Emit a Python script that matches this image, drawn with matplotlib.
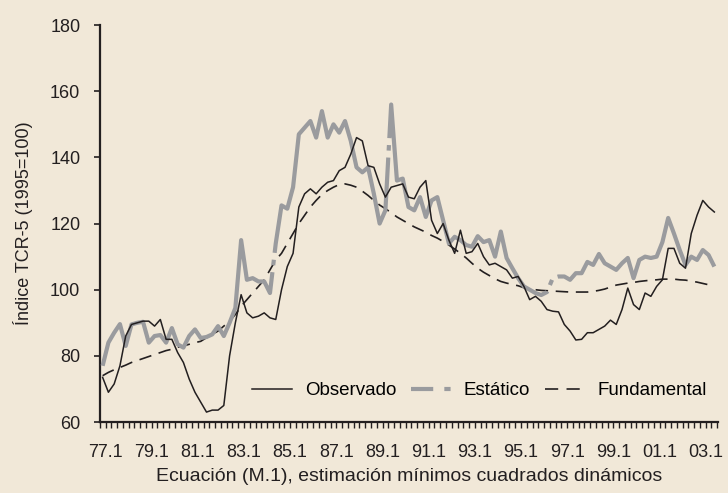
import numpy as np
import matplotlib
matplotlib.use("Agg")
from matplotlib import pyplot as plt
from matplotlib.lines import Line2D

plt.rcParams['font.family'] = ['Liberation Sans', 'DejaVu Sans']
plt.rcParams['lines.scale_dashes'] = False

# quarterly data 1977.1 - 2003.3
observado = [73.5, 69, 71.5, 77, 86, 89.5, 90, 90.5, 90.5, 89, 91, 85, 85, 81, 78, 73,
             69, 66, 63, 63.6, 63.6, 65, 80, 90, 98.5, 93, 91.5, 92, 93, 91.5, 91, 100,
             107, 111, 125, 129, 130.5, 129, 131, 132.5, 133, 136, 137, 141, 146, 145, 137.5, 137,
             132, 128, 131, 131.5, 132, 128, 127.5, 131, 133, 121, 117, 120, 115, 111, 118, 111,
             111.5, 114, 110, 107.5, 108, 107, 106, 103.5, 104, 101, 97, 98, 96.5, 94, 93.5, 93.3,
             89.5, 87.5, 84.8, 85, 87, 87, 88, 89, 90.8, 89.5, 94, 100.5, 95.5, 94, 99, 98,
             101, 103, 112.5, 112.5, 108, 106.5, 117, 122.5, 127, 125, 123.5]
estatico = [77, 84, 87, 89.6, 83, 89.5, 90, 90.3, 84, 86, 86.3, 84, 88.4, 83.5, 82.5, 86,
            88, 85.4, 85.7, 86.5, 89, 86, 90, 94.5, 115, 103, 103.5, 102.5, 102.5, 99, 114, 125.5,
            124.5, 131, 147, 149, 151, 146, 154, 146, 150, 147.5, 151, 145, 137, 135.5, 137, 129,
            120, 124, 156, 133, 133.6, 125, 124, 128, 122, 127, 128, 121, 114, 116, 115, 113.5,
            113, 116.2, 114.4, 115, 110, 117.6, 109.6, 106.5, 103.5, 101, 100, 99, 98.4, 99.3, 103.5, 104,
            104, 103, 105, 105, 108.4, 107.5, 110.8, 108, 107, 106, 108, 109.6, 103.5, 109, 110, 109.6,
            110, 114.4, 121.7, 117, 112, 107.5, 110, 109, 112, 110.5, 107]
fundamental = [74, 75, 75.8, 76.5, 77.2, 78, 78.6, 79.2, 79.8, 80.4, 81, 81.6, 82, 82.6, 83, 83.5,
               84, 84.4, 85.5, 86.5, 87.5, 89, 90.5, 92.5, 95, 97, 99, 101, 103, 106, 109, 111,
               114, 117, 120, 122.5, 125, 127, 128.8, 130, 131, 131.8, 132, 131.6, 131, 129.8, 128.5, 127,
               125.6, 124.5, 123.3, 122, 121, 120, 119, 118.2, 117.4, 116.4, 115.6, 114.6, 113.5, 112.3, 111, 109.6,
               108, 106.5, 105.3, 104.3, 103.3, 102.5, 102, 101.6, 101.2, 100.6, 100.2, 100, 99.8, 99.7, 99.6, 99.5,
               99.4, 99.3, 99.3, 99.3, 99.3, 99.5, 99.8, 100.2, 100.8, 101.4, 101.7, 102, 102.2, 102.5, 102.7, 102.9,
               103, 103.2, 103.2, 103.2, 103, 102.9, 102.6, 102.3, 101.9, 101.5, 101.2]
tick_labels = ['77.1', '79.1', '81.1', '83.1', '85.1', '87.1', '89.1', '91.1', '93.1',
               '95.1', '97.1', '99.1', '01.1', '03.1']

bg = '#f1e8d8'
dark = '#231f20'
grey = '#9a9b9e'

x = np.arange(len(observado))

fig = plt.figure(figsize=(7.28, 4.93), dpi=100, facecolor=bg)
ax = fig.add_axes([0.137, 0.144, 0.849, 0.805], facecolor=bg)

ax.plot(x, fundamental, color=dark, lw=1.2, dashes=(9, 5.5), zorder=2)
ax.plot(x, estatico, color=grey, lw=3.0, dashes=(320, 5, 4, 5), zorder=3, solid_capstyle='butt')
ax.plot(x, observado, color=dark, lw=1.1, zorder=4)

ax.set_xlim(-0.5, len(x) - 0.4)
ax.set_ylim(60, 180)
ax.set_yticks(np.arange(60, 181, 20))
# year labels as major (no tick mark), quarter ticks as minor
ax.xaxis.remove_overlapping_locs = False
ax.set_xticks(np.arange(0, len(x), 8) + 0.5, tick_labels)
ax.set_xticks(np.arange(-0.5, len(x), 1), minor=True)

for s in ['top', 'right']:
    ax.spines[s].set_visible(False)
for s in ['left', 'bottom']:
    ax.spines[s].set_linewidth(1.6)
    ax.spines[s].set_color(dark)

ax.tick_params(axis='y', colors=dark, labelsize=13, width=1.2, length=4, pad=10)
ax.tick_params(axis='x', which='major', labelcolor=dark, labelsize=13, length=0, pad=16)
ax.tick_params(axis='x', which='minor', color=dark, width=1.0, length=4)

ax.set_ylabel('Índice TCR-5 (1995=100)', fontsize=13, color=dark, labelpad=12)
ax.set_xlabel('Ecuación (M.1), estimación mínimos cuadrados dinámicos', fontsize=14,
              color=dark, labelpad=5)

handles = [Line2D([], [], color=dark, lw=1.1),
           Line2D([], [], color=grey, lw=3.0, dashes=(16, 8, 4.5, 8)),
           Line2D([], [], color=dark, lw=1.2, dashes=(9.5, 6))]
ax.legend(handles, ['Observado', 'Estático', 'Fundamental'], ncol=3, frameon=False,
          loc='lower right', bbox_to_anchor=(1.01, 0.015), fontsize=13.5,
          handlelength=2.1, handletextpad=0.7, columnspacing=0.8)

fig.savefig('out.png', dpi=100, facecolor=bg)
